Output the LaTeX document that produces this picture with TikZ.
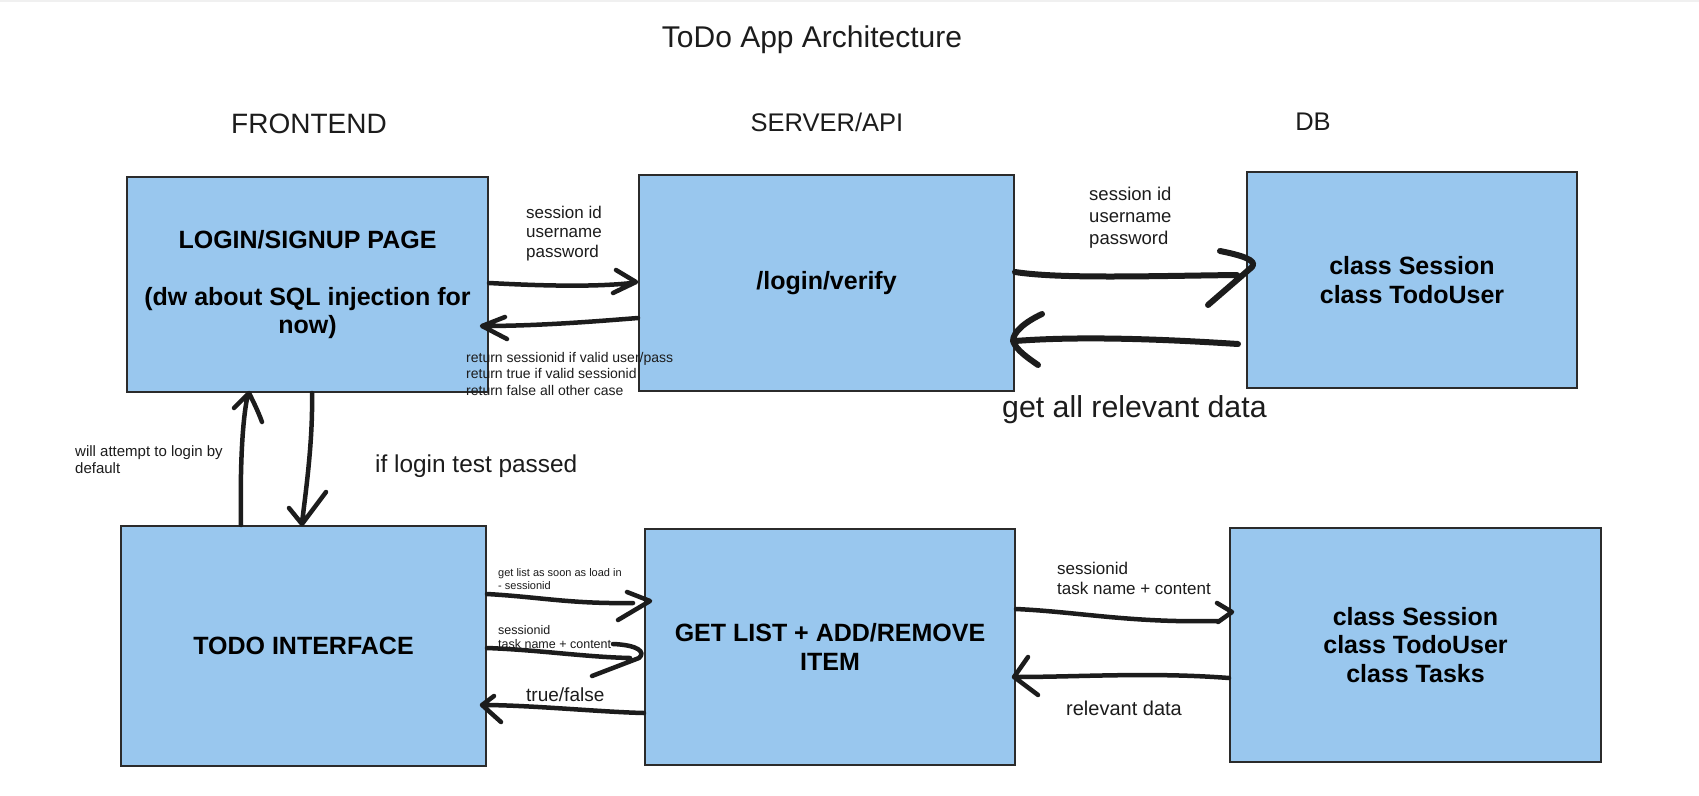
\documentclass[tikz,border=0pt]{standalone}
\usepackage{fontspec}
\setmainfont{Liberation Sans}
\definecolor{boxblue}{HTML}{99C7EE}
\definecolor{edgegray}{HTML}{2B2B2B}
\definecolor{ink}{HTML}{1C1C1C}
\newcommand{\fsz}[2]{\fontsize{#1}{#2}\selectfont}
\begin{document}
\begin{tikzpicture}[x=1pt,y=-1pt,
  box/.style={draw=edgegray,line width=2pt,fill=boxblue,align=center,font=\bfseries\fsz{25}{28.3},text=black,inner sep=0pt},
  lbl/.style={inner sep=0pt,align=left,anchor=west,text=ink},
  hdr/.style={inner sep=0pt,text=ink},
  stroke/.style={draw=ink,line width=4.5pt,line cap=round,line join=round},
  bigstroke/.style={stroke,line width=6pt}
]
\fill[white] (0,0) rectangle (1699,795);
\useasboundingbox (0,0) rectangle (1699,795);
\draw[gray!12,line width=1.5pt] (0,1) -- (1699,1);

% headers
\node[hdr,font=\fsz{30}{34}] (title) at (812,40) {ToDo App Architecture};
\node[hdr,font=\fsz{28}{32}] (hfront) at (309,124) {FRONTEND};
\node[hdr,font=\fsz{25.5}{30}] (hserver) at (827,122) {SERVER/API};
\node[hdr,font=\fsz{25.5}{30}] (hdb) at (1313,122) {DB};

% boxes
\node[box,minimum width=361pt,minimum height=215pt] (login) at (307.5,284.5)
  {LOGIN/SIGNUP PAGE\\[29pt](dw about SQL injection for\\now)};
\node[box,minimum width=375pt,minimum height=216pt] (verify) at (826.5,283) {/login/verify};
\node[box,minimum width=330pt,minimum height=216pt] (db1) at (1412,280) {class Session\\class TodoUser};
\node[box,minimum width=365pt,minimum height=240pt] (todo) at (303.5,646) {TODO INTERFACE};
\node[box,minimum width=370pt,minimum height=236pt] (getlist) at (830,647) {GET LIST + ADD/REMOVE\\ITEM};
\node[box,minimum width=371pt,minimum height=234pt] (db2) at (1415.5,645) {class Session\\class TodoUser\\class Tasks};

% labels
\node[lbl,font=\fsz{17}{19.5}] (l1) at (526,233.5) {session id\\username\\password};
\node[lbl,font=\fsz{14}{16.5}] (l2) at (466,373.5) {return sessionid if valid user/pass\\return true if valid sessionid\\return false all other case};
\node[lbl,font=\fsz{18.5}{22}] (l3) at (1089,218) {session id\\username\\password};
\node[lbl,font=\fsz{30.3}{34}] (l4) at (1002,410) {get all relevant data};
\node[lbl,font=\fsz{15}{17.5}] (l5) at (75,459.5) {will attempt to login by\\default};
\node[lbl,font=\fsz{24.4}{28}] (l6) at (375,466) {if login test passed};
\node[lbl,font=\fsz{11}{12.5}] (l7) at (498,579) {get list as soon as load in\\- sessionid};
\node[lbl,font=\fsz{12.5}{14}] (l8) at (498,637) {sessionid\\task name + content};
\node[lbl,font=\fsz{19}{23}] (l9) at (526,695) {true/false};
\node[lbl,font=\fsz{17}{20}] (l10) at (1057,578) {sessionid\\task name + content};
\node[lbl,font=\fsz{20}{23}] (l11) at (1066,708) {relevant data};

% connectors
\draw[stroke] (login.east |- 0,283) .. controls (545,286) and (595,287) .. (632,283)
  (616,270) -- (636,282) -- (613,293);
\draw[stroke] (verify.west |- 0,318) .. controls (600,321) and (540,326) .. (483,326)
  (505,317) -- (482,326) -- (507,339);
\draw[bigstroke] (verify.east |- 0,272) .. controls (1060,279) and (1150,276) .. (1237,275)
  (1220,251) .. controls (1240,255) and (1258,260) .. (1252,267) -- (1208,305);
\coordinate (a4s) at (1238,344);
\draw[bigstroke] (a4s) .. controls (1160,339) and (1080,336) .. (1015,341)
  (1042,314) .. controls (1025,322) and (1013,332) .. (1013,341)
  .. controls (1016,350) and (1028,358) .. (1038,365);
\draw[stroke] (312,0 |- login.south) .. controls (313,440) and (306,490) .. (302,523)
  (289,508) -- (302,524) -- (326,492);
\draw[stroke] (241,0 |- todo.north) .. controls (240,470) and (242,420) .. (248,394)
  (234,408) -- (249,393) .. controls (253,401) and (258,411) .. (262,422);
\draw[stroke] (todo.east |- 0,594) .. controls (540,597) and (570,604) .. (633,603)
  (627,592) -- (650,601) -- (618,620);
\draw[stroke] (todo.east |- 0,648) .. controls (540,650) and (585,657) .. (630,658)
  (613,644) .. controls (638,645) and (646,652) .. (639,658) -- (592,676);
\draw[stroke] (getlist.west |- 0,713) .. controls (600,712) and (530,705) .. (482,705)
  (494,696) -- (482,705) -- (501,722);
\draw[stroke] (getlist.east |- 0,609) .. controls (1080,612) and (1130,623) .. (1218,621)
  (1217,603) -- (1232,612) -- (1218,622);
\draw[stroke] (db2.west |- 0,678) .. controls (1150,672) and (1080,677) .. (1015,677)
  (1028,657) -- (1014,677) -- (1038,695);
\end{tikzpicture}
\end{document}
